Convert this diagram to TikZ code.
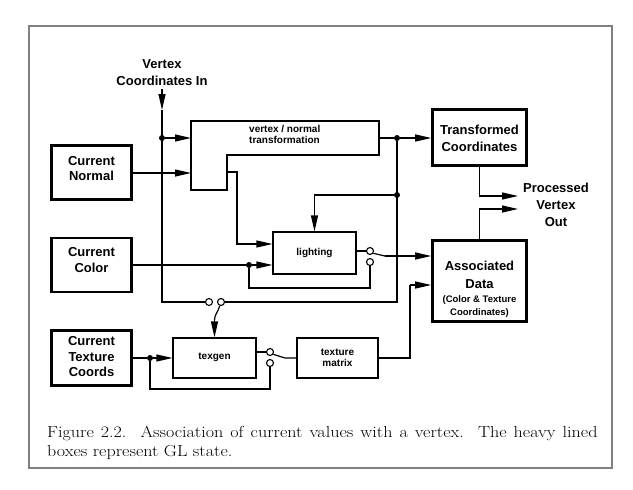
\documentclass[tikz,border=0pt]{standalone}
\usepackage{fontspec}
\usepackage{graphicx}
\setsansfont{Liberation Sans}
\usetikzlibrary{arrows.meta,calc}
\tikzset{
  wire/.style={line width=1.2pt},
  arr/.style={wire,-{Triangle[length=16pt,width=7pt]}},
  statebox/.style={draw,line width=2.6pt,minimum width=80pt,inner sep=0pt},
  procbox/.style={draw,line width=1.2pt,inner sep=0pt},
  bigln/.style={anchor=base,inner sep=0pt,font=\sffamily\bfseries\fontsize{13}{15}\selectfont},
  smallln/.style={anchor=base,inner sep=0pt,font=\sffamily\bfseries\fontsize{10}{12}\selectfont},
  tinyln/.style={anchor=base,inner sep=0pt,font=\sffamily\bfseries\fontsize{9.5}{11}\selectfont},
  capln/.style={anchor=base west,inner sep=0pt,font=\fontsize{16}{19}\selectfont},
  jdot/.style={circle,fill,inner sep=0pt,minimum size=6pt},
  sw/.style={circle,draw,fill=white,line width=1.1pt,inner sep=0pt,minimum size=7pt},
}
\begin{document}
\begin{tikzpicture}[x=1pt,y=-1pt]
\useasboundingbox (0,0) rectangle (633,490);
\draw[gray,line width=1.1pt] (29,26) rectangle (612,468);

% state boxes
\node[statebox,minimum height=54pt] (nrm) at (91.5,172.5) {};
\node[statebox,minimum height=54pt] (col) at (91.5,265) {};
\node[statebox,minimum height=55pt] (tc) at (91.5,358) {};
\node[statebox,minimum width=94pt,minimum height=56pt] (tr) at (479.5,137.5) {};
\node[statebox,minimum width=94pt,minimum height=81pt] (as) at (479.5,281) {};

\node[bigln] (nrm1) at (91.5,165.7) {Current};
\node[bigln] (nrm2) at (91.5,180.7) {Normal};
\node[bigln] (col1) at (91.5,256.7) {Current};
\node[bigln] (col2) at (91.5,272.7) {Color};
\node[bigln] (tc1) at (91.5,345.7) {Current};
\node[bigln] (tc2) at (91.5,361.4) {Texture};
\node[bigln] (tc3) at (91.5,376.7) {Coords};
\node[bigln] (tr1) at (479.5,134) {Transformed};
\node[bigln] (tr2) at (479.5,151.4) {Coordinates};
\node[bigln] (as1) at (479.5,270.4) {Associated};
\node[bigln] (as2) at (479.5,288) {Data};
\node[tinyln] (as3) at (479.5,302.4) {(Color \& Texture};
\node[tinyln] (as4) at (479.5,315.7) {Coordinates)};

% processing boxes
\draw[wire] (191,121) -- (379,121) -- (379,155) -- (227,155) -- (227,190) -- (191,190) -- cycle;
\node[smallln,anchor=base west] (vn1) at (249,132) {vertex / normal};
\node[smallln,anchor=base west] (vn2) at (249,143.7) {transformation};
\node[procbox,minimum width=83pt,minimum height=42pt] (lit) at (314.5,253) {};
\node[smallln] (litt) at (314.5,255.5) {lighting};
\node[procbox,minimum width=83pt,minimum height=40pt] (tg) at (214.5,358) {};
\node[smallln] (tgt) at (214.5,359.5) {texgen};
\node[procbox,minimum width=81pt,minimum height=40pt] (tm) at (337.5,358) {};
\node[smallln] (tm1) at (337.5,355) {texture};
\node[smallln] (tm2) at (337.5,366.3) {matrix};

% labels
\node[bigln] (vin1) at (162,68) {Vertex};
\node[bigln] (vin2) at (162,85.4) {Coordinates In};
\node[bigln] (pv1) at (556,192) {Processed};
\node[bigln] (pv2) at (556,209) {Vertex};
\node[bigln] (pv3) at (556,226.4) {Out};

% coordinates
\coordinate (vtop) at (162,89);
\coordinate (vmid) at (162,110);
\coordinate (vbot) at (162,302);
\coordinate (vnin1) at (191,138);
\coordinate (vnin2) at (191,173);
\coordinate (vnout) at (379,138);
\coordinate (vnn) at (227,172);
\coordinate (rbot) at (397,302);
\coordinate (lev1) at (214.5,320);
\coordinate (lev2) at (385,256);
\coordinate (lev3) at (285,358);
\coordinate (cloop) at (370,288);
\coordinate (tloop) at (270,389);
\coordinate (tmup) at (410,285);
\coordinate (po1) at (518,196);
\coordinate (po2) at (518,209);

% junctions & switches
\node[jdot] (d1) at (162,138) {};
\node[jdot] (d2) at (397,138) {};
\node[jdot] (d3) at (397,195) {};
\node[jdot] (d4) at (249,265) {};
\node[jdot] (d5) at (150,358) {};
\node[sw] (s1a) at (209,302) {};
\node[sw] (s1b) at (221,302) {};
\node[sw] (s2a) at (370,251) {};
\node[sw] (s2b) at (370,262) {};
\node[sw] (s3a) at (270,352) {};
\node[sw] (s3b) at (270,363) {};

% vertex coordinates in
\draw[arr] (vtop) -- (vmid);
\draw[wire] (vmid) -- (vbot) -- (s1a.west);
\draw[arr] (d1) -- (vnin1);
\draw[arr] (nrm.east |- vnin2) -- (vnin2);
\draw[wire] (vnout) -- (d2);
\draw[arr] (d2) -- (tr.west |- d2);
\draw[wire] (d2) -- (rbot) -- (s1b.east);
\draw[wire] (s1b.250) to[out=-100,in=90] (lev1);
\draw[arr] (lev1) -- (tg.north);
\draw[arr] (d3) -| (lit.north);
\draw[arr] (vnn) -- ++(10,0) |- ($(lit.west)+(0,-9)$);

% color
\draw[wire] (col.east) -- (d4);
\draw[arr] (d4) -- (lit.west |- d4);
\draw[wire] (d4) |- (cloop) -- (s2b.south);
\draw[wire] (lit.east |- s2a) -- (s2a.west);
\draw[wire] (s2a.-35) -- (lev2);
\draw[arr] (lev2) -- (as.west |- lev2);

% texture
\draw[wire] (tc.east |- d5) -- (d5);
\draw[arr] (d5) -- (tg.west);
\draw[wire] (d5) |- (tloop) -- (s3b.south);
\draw[wire] (tg.east |- s3a) -- (s3a.west);
\draw[wire] (s3a.-35) -- (lev3) -- (tm.west);
\draw[wire] (tm.east) -| (tmup);
\draw[arr] (tmup) -- (as.west |- tmup);

% outputs
\draw[arr] (tr.south) |- (po1);
\draw[arr] (as.north) |- (po2);

% caption
\node[capln] (cap1) at (47,437) {\scalebox{1.13}[1]{\makebox[487pt][s]{Figure 2.2.\ \ Association of current values with a vertex.\ \ The heavy lined}}};
\node[capln] (cap2) at (47,456) {\scalebox{1.13}[1]{boxes represent GL state.}};
\end{tikzpicture}
\end{document}
